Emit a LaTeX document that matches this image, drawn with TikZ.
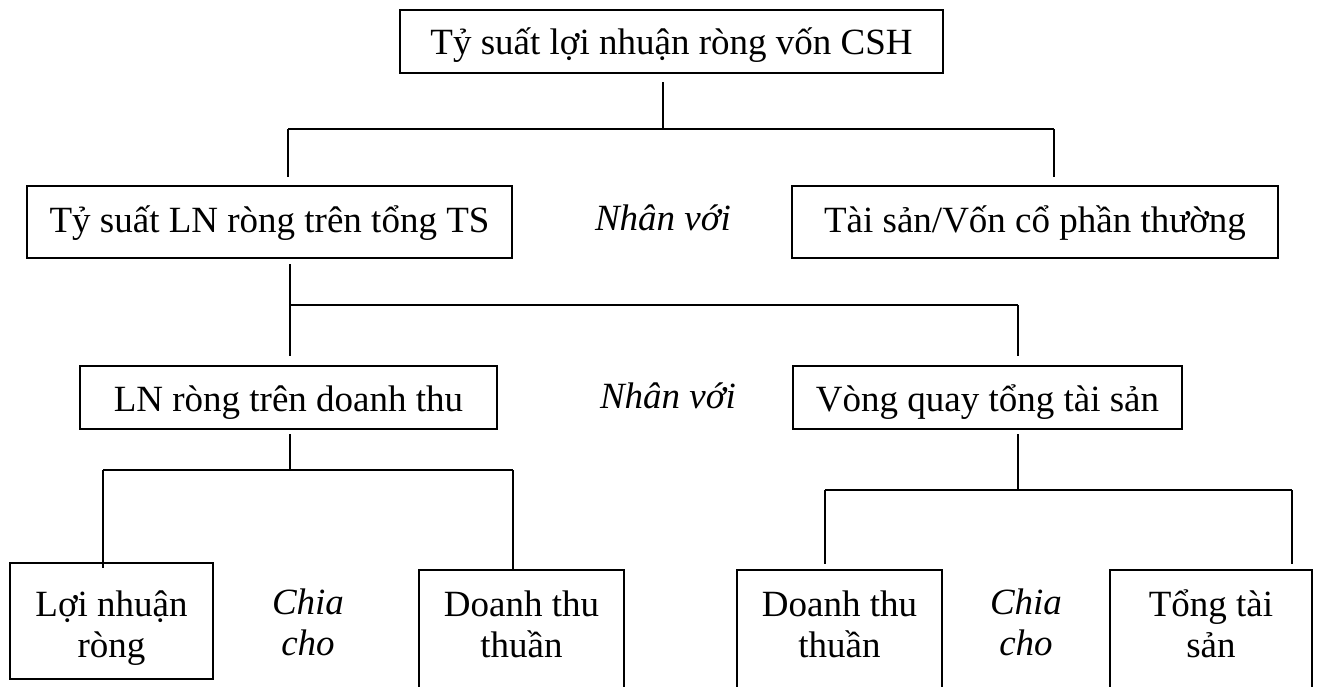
\documentclass[tikz,border=0pt]{standalone}
\usepackage{fontspec}
\setmainfont{Liberation Serif}
\newcommand{\twolines}[2]{\begin{tabular}[t]{@{}c@{}}#1\\#2\end{tabular}}
\begin{document}
\begin{tikzpicture}[x=1pt,y=-1pt,
  box/.style={draw, line width=2pt, inner sep=0pt, anchor=north,
    font=\fontsize{37}{41}\selectfont},
  lbl/.style={inner sep=0pt, font=\fontsize{37}{41}\selectfont\itshape},
  conn/.style={line width=2pt}]
\path[use as bounding box] (0,0) rectangle (1323,686);
\clip (0,0) rectangle (1323,686);
\fill[white] (0,0) rectangle (1323,686);

% level 1
\node[box, minimum width=543pt, text height=44pt, text depth=19pt] (roe) at (671.5,9)
  {Tỷ suất lợi nhuận ròng vốn CSH};

% level 2
\node[box, minimum width=485pt, text height=46pt, text depth=26pt] (roa) at (269.5,185)
  {Tỷ suất LN ròng trên tổng TS};
\node[box, minimum width=486pt, text height=46pt, text depth=26pt] (em) at (1035,185)
  {Tài sản/Vốn cổ phần thường};
\node[lbl, anchor=base] (mul1) at (663,230) {Nhân với};

% level 3
\node[box, minimum width=417pt, text height=45pt, text depth=18pt] (npm) at (288.5,365)
  {LN ròng trên doanh thu};
\node[box, minimum width=389pt, text height=45pt, text depth=18pt] (tat) at (987.5,365)
  {Vòng quay tổng tài sản};
\node[lbl, anchor=base] (mul2) at (668,408) {Nhân với};

% level 4
\node[box, minimum width=203pt, text height=53pt, text depth=63pt] (ni) at (111.5,562)
  {\twolines{Lợi nhuận}{ròng}};
\node[lbl, anchor=north, text height=52pt, text depth=60pt] (div1) at (308,562)
  {\twolines{Chia}{cho}};
\node[box, minimum width=205pt, text height=46pt, text depth=150pt] (rev1) at (521.5,569)
  {\twolines{Doanh thu}{thuần}};
\node[box, minimum width=205pt, text height=46pt, text depth=150pt] (rev2) at (839.5,569)
  {\twolines{Doanh thu}{thuần}};
\node[lbl, anchor=north, text height=52pt, text depth=60pt] (div2) at (1026,562)
  {\twolines{Chia}{cho}};
\node[box, minimum width=202pt, text height=46pt, text depth=150pt] (ta) at (1211,569)
  {\twolines{Tổng tài}{sản}};

% connectors: level 1 -> level 2
\coordinate (b1) at (663,129);
\coordinate (b1L) at (288,129);
\coordinate (b1R) at (1054,129);
\draw[conn, shorten <=8pt] (roe.south -| b1) -- (b1);
\draw[conn] (b1L) -- (b1R);
\draw[conn, shorten >=8pt] (b1L) -- (b1L |- roa.north);
\draw[conn, shorten >=8pt] (b1R) -- (b1R |- em.north);

% level 2 -> level 3
\coordinate (b2L) at (290,305);
\coordinate (b2R) at (1018,305);
\draw[conn, shorten <=5pt] (roa.south -| b2L) -- (b2L) -- (b2R);
\draw[conn, shorten >=9pt] (b2L) -- (b2L |- npm.north);
\draw[conn, shorten >=9pt] (b2R) -- (b2R |- tat.north);

% level 3 -> level 4, left branch
\coordinate (b3) at (290,470);
\coordinate (b3L) at (103,470);
\coordinate (b3R) at (513,470);
\draw[conn, shorten <=4pt] (npm.south -| b3) -- (b3);
\draw[conn] (b3L) -- (b3R);
\draw[conn, shorten >=-6pt] (b3L) -- (b3L |- ni.north);
\draw[conn] (b3R) -- (b3R |- rev1.north);

% level 3 -> level 4, right branch
\coordinate (b4) at (1018,490);
\coordinate (b4L) at (825,490);
\coordinate (b4R) at (1292,490);
\draw[conn, shorten <=4pt] (tat.south -| b4) -- (b4);
\draw[conn] (b4L) -- (b4R);
\draw[conn, shorten >=5pt] (b4L) -- (b4L |- rev2.north);
\draw[conn, shorten >=5pt] (b4R) -- (b4R |- ta.north);
\end{tikzpicture}
\end{document}
